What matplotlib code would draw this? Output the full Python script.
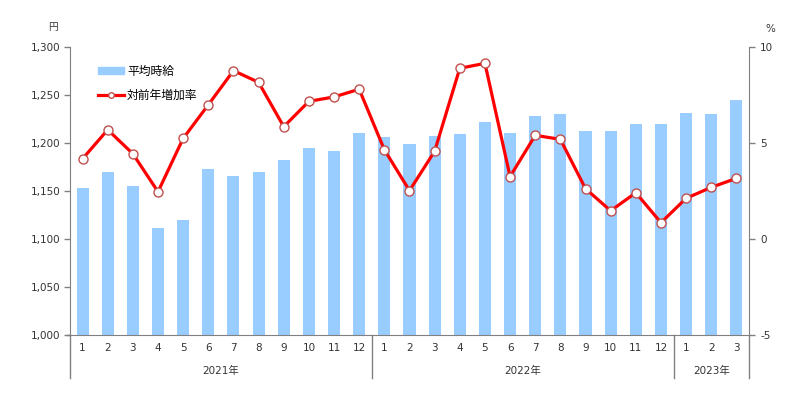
import matplotlib.pyplot as plt
import matplotlib.transforms as mtransforms
from matplotlib.patches import Patch
from matplotlib.lines import Line2D

plt.rcParams['font.family'] = ['DejaVu Sans', 'Noto Sans CJK JP']
plt.rcParams['axes.unicode_minus'] = False

months = ["1", "2", "3", "4", "5", "6", "7", "8", "9", "10", "11", "12",
          "1", "2", "3", "4", "5", "6", "7", "8", "9", "10", "11", "12",
          "1", "2", "3"]
years = ["2021年", "2022年", "2023年"]
year_counts = [12, 12, 3]

wage = [1153, 1170, 1155, 1111, 1120, 1173, 1166, 1170, 1182, 1195, 1192, 1210,
        1206, 1199, 1207, 1209, 1222, 1210, 1228, 1230, 1212, 1212, 1220, 1220,
        1231, 1230, 1245]
growth = [4.18, 5.69, 4.44, 2.46, 5.24, 6.99, 8.77, 8.16, 5.85, 7.17, 7.40, 7.80,
          4.65, 2.52, 4.57, 8.89, 9.15, 3.25, 5.40, 5.19, 2.62, 1.47, 2.41, 0.85,
          2.12, 2.69, 3.16]

gray = "#808080"
txt = "#333333"

fig = plt.figure(figsize=(7.99, 3.98), dpi=100)
ax = fig.add_axes([0.0876, 0.1583, 0.8498, 0.7236])
x = list(range(len(months)))

ax.bar(x, wage, width=0.48, color="#99CCFF", zorder=2)
ax.set_ylim(1000, 1300)
ax.set_xlim(-0.5, len(months) - 0.5)
ax.set_yticks(range(1000, 1301, 50))
ax.set_yticklabels([f"{v:,}" for v in range(1000, 1301, 50)])
ax.set_xticks([])

ax2 = ax.twinx()
ax2.plot(x, growth, color="#FF0000", lw=2.3, marker="o", markersize=6.5,
         markerfacecolor="white", markeredgecolor="#C0504D", markeredgewidth=1, zorder=3)
ax2.set_ylim(-5, 10)
ax2.set_yticks([-5, 0, 5, 10])

for a in (ax, ax2):
    for s in a.spines.values():
        s.set_visible(False)
    a.tick_params(axis="y", colors=gray, labelcolor=txt, labelsize=7.5, length=4, width=1)
ax.spines["left"].set_visible(True)
ax.spines["left"].set_color(gray)
ax.spines["bottom"].set_visible(True)
ax.spines["bottom"].set_color(gray)
ax2.spines["right"].set_visible(True)
ax2.spines["right"].set_color(gray)
ax.tick_params(axis="y", pad=3)
ax2.tick_params(axis="y", pad=4)

# category labels below the axis
trans = mtransforms.blended_transform_factory(ax.transData, ax.transAxes)
for i, m in enumerate(months):
    ax.text(i, -0.045, m, transform=trans, ha="center", va="center",
            fontsize=7.5, color=txt)

pos = -0.5
seps = [pos]
for yname, n in zip(years, year_counts):
    ax.text(pos + n / 2, -0.125, yname, transform=trans, ha="center", va="center",
            fontsize=7.5, color=txt)
    pos += n
    seps.append(pos)
for s in seps:
    ax.plot([s, s], [0, -0.15], transform=trans, color=gray, lw=1, clip_on=False)
ax.plot([-0.62, -0.5], [0, 0], transform=trans, color=gray, lw=1, clip_on=False)

fig.text(48 / 799, 1 - 27 / 398, "円", fontsize=7, color=txt, ha="left", va="center")
fig.text(765 / 799, 1 - 29 / 398, "%", fontsize=7.5, color=txt, ha="left", va="center")

handles = [Patch(color="#99CCFF"),
           Line2D([0], [0], color="#FF0000", lw=2.3, marker="o", markersize=4,
                  markerfacecolor="white", markeredgecolor="#C0504D")]
leg = ax2.legend(handles, ["平均時給", "対前年増加率"], loc="upper left",
                 bbox_to_anchor=(0.025, 0.975), frameon=False, fontsize=8.5,
                 handlelength=2.2, handleheight=0.5, labelspacing=0.9, handletextpad=0.3)

fig.savefig("out.png", dpi=100)
